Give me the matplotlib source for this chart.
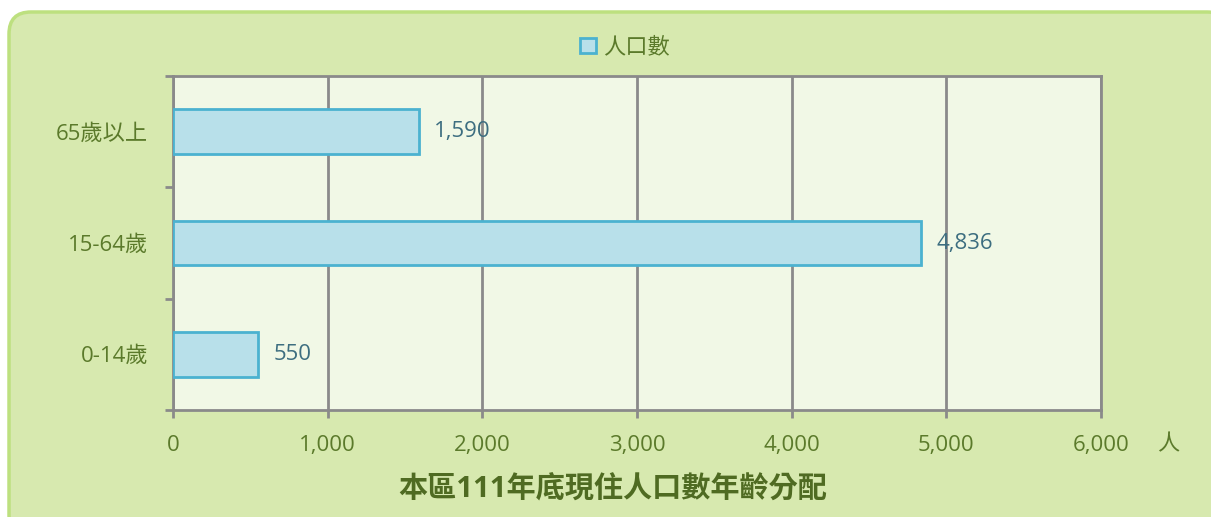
import matplotlib.pyplot as plt
from matplotlib.patches import FancyBboxPatch
from matplotlib.transforms import IdentityTransform
from matplotlib.ticker import FuncFormatter

plt.rcParams['font.family'] = ['Open Sans', 'Noto Sans CJK TC', 'DejaVu Sans']

# population by age group
groups = ['0-14歲', '15-64歲', '65歲以上']
counts = [550, 4836, 1590]
xticks = [0, 1000, 2000, 3000, 4000, 5000, 6000]

green_txt = '#5b7a2b'
grey = '#8a8a8a'
fs = 16

fig = plt.figure(figsize=(12.11, 5.17), dpi=100)
fig.patch.set_facecolor('white')

# rounded green panel behind the chart (pixel coords)
panel = FancyBboxPatch((9, -20), 1220, 525,
                       boxstyle='round,pad=0,rounding_size=22',
                       transform=IdentityTransform(),
                       facecolor='#d7e9af', edgecolor='#bde07f',
                       linewidth=2.5, zorder=-5)
fig.patches.append(panel)

ax = fig.add_axes([173 / 1211, 1 - 410 / 517, 928 / 1211, 334 / 517])
ax.set_facecolor('#f1f8e6')

ax.barh(range(len(groups)), counts, height=0.4, color='#b8e0ea',
        edgecolor='#4bb2d0', linewidth=2, zorder=3, label='人口數')

for i, v in enumerate(counts):
    ax.text(v + 100, i, f'{v:,}', va='center', ha='left',
            fontsize=fs, color='#3d6e80', zorder=4)

ax.set_xlim(0, 6000)
ax.set_ylim(-0.5, len(groups) - 0.5)
ax.set_xticks(xticks)
ax.xaxis.set_major_formatter(FuncFormatter(lambda v, p: f'{int(v):,}'))
ax.set_yticks([i - 0.5 for i in range(len(groups) + 1)])
ax.set_yticklabels([])
ax.set_yticks(range(len(groups)), minor=True)
ax.set_yticklabels(groups, minor=True)
ax.tick_params(axis='y', which='minor', length=0, pad=18,
               labelsize=fs, labelcolor=green_txt)
ax.tick_params(axis='y', which='major', length=6, width=2, color=grey)
ax.tick_params(axis='x', length=6, width=2, color=grey, pad=12,
               labelsize=fs, labelcolor=green_txt)

ax.grid(axis='x', color=grey, linewidth=2, zorder=1)
ax.set_axisbelow(True)
for s in ax.spines.values():
    s.set_color(grey)
    s.set_linewidth(2)

ax.text(1.072, -0.105, '人', transform=ax.transAxes, ha='center', va='center',
        fontsize=fs, color=green_txt)

fig.text(613 / 1211, 1 - 490 / 517, '本區111年底現住人口數年齡分配',
         ha='center', va='center', fontsize=21, fontweight='bold',
         color='#4f6b22')

ax.legend(loc='lower center', bbox_to_anchor=(0.487, 1.0), frameon=False,
          fontsize=fs, labelcolor=green_txt, handlelength=0.7,
          handleheight=0.7, handletextpad=0.3, borderaxespad=0.4)

fig.savefig('out.png', dpi=100)
